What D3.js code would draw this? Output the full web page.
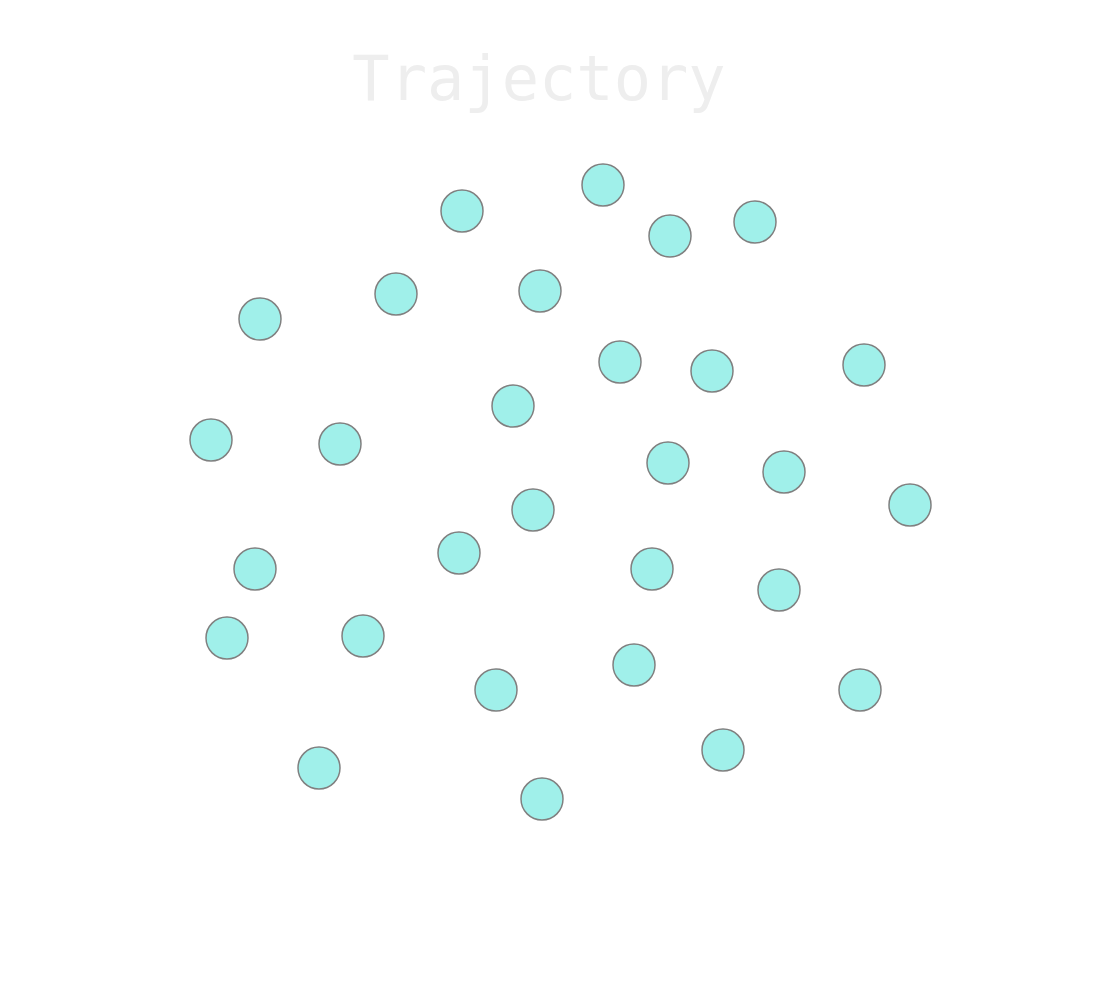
<!DOCTYPE html>
<html>
<head>
<meta charset="utf-8">
<script src="https://cdn.jsdelivr.net/npm/d3@7"></script>
<style>
  html, body { margin: 0; padding: 0; background: #fff; }
</style>
</head>
<body>
<svg id="chart" width="1106" height="1004"></svg>
<script>
const title = "Trajectory";
const xValues = [-2.45, 1.075, 2.75, 4.875, -7.5, -4.1, -0.5, 1.5, 3.8, 7.6, -1.175, -8.725, -5.5, 2.7, 5.6, 8.75, -0.675, -2.525, -7.625, 2.3, 5.475, -8.325, -4.925, 1.85, -1.6, 7.5, 4.075, -6.025, -0.45];
const yValues = [6.975, 7.625, 6.35, 6.7, 4.275, 4.9, 4.975, 3.2, 2.975, 3.125, 2.1, 1.25, 1.15, 0.675, 0.45, -0.375, -0.5, -1.575, -1.975, -1.975, -2.5, -3.7, -3.65, -4.375, -5.0, -5.0, -6.5, -6.95, -7.725];

const svg = d3.select("#chart");
const x = d3.scaleLinear().domain([-10, 10]).range([160, 960]);
const y = d3.scaleLinear().domain([-10, 10]).range([890, 90]);

svg.append("text")
  .attr("x", 539)
  .attr("y", 100)
  .attr("text-anchor", "middle")
  .attr("font-family", "DejaVu Sans Mono, monospace")
  .attr("font-size", 62)
  .attr("fill", "#eeeeee")
  .text(title);

const pts = xValues.map((v, i) => ({x: v, y: yValues[i]}));
svg.append("g").selectAll("circle")
  .data(pts)
  .join("circle")
  .attr("cx", d => x(d.x))
  .attr("cy", d => y(d.y))
  .attr("r", 21)
  .attr("fill", "#a0f0ea")
  .attr("stroke", "#808080")
  .attr("stroke-width", 1.5);
</script>
</body>
</html>
